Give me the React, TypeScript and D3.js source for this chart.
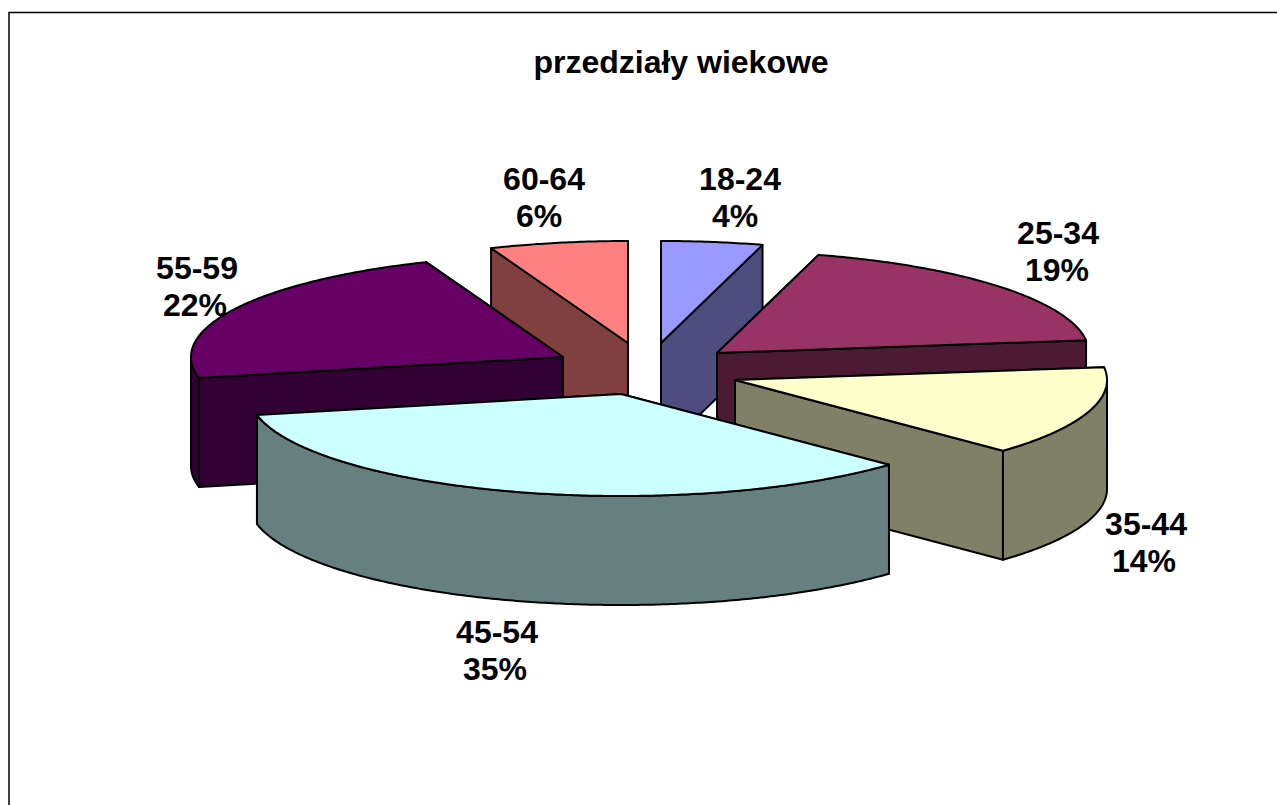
import React from "react";
import * as d3 from "d3";

// ---- data ----
const categories = ["18-24", "25-34", "35-44", "45-54", "55-59", "60-64"];
const shares = [4.4, 18.6, 14.2, 34.5, 22.3, 6];
const title = "przedziały wiekowe";

// ---- style ----
const topColors = ["#9999FF", "#993366", "#FFFFCC", "#CCFFFF", "#660066", "#FF8080"];
const sideColors = ["#4D4D80", "#4D1A33", "#808066", "#668080", "#330033", "#804040"];

// ---- layout ----
const RX = 372;
const RY = 102;
const DEPTH = 109;
const centers: [number, number][] = [
  [661, 343],
  [717, 353],
  [735, 380],
  [621, 394],
  [563, 357],
  [628, 343],
];
const labelPos: [number, number, number][] = [
  [740, 190, 735],
  [1058, 244, 1057],
  [1146, 535, 1144],
  [497, 643, 495],
  [197, 279, 195],
  [544, 190, 539],
];
const drawOrder = [5, 0, 4, 1, 2, 3];

const pieGen = d3.pie<number>().sort(null).startAngle(0).endAngle(2 * Math.PI);
const arcs = pieGen(shares);

const px = (c: [number, number], a: number, dy = 0): [number, number] => [
  c[0] + RX * Math.sin(a),
  c[1] - RY * Math.cos(a) + dy,
];

function arcPts(c: [number, number], a0: number, a1: number, dy = 0) {
  const n = Math.max(2, Math.ceil(Math.abs(a1 - a0) / 0.01));
  return d3.range(n + 1).map((i) => px(c, a0 + ((a1 - a0) * i) / n, dy));
}

const line = d3.line();

export default function App() {
  return (
    <svg
      width={1277}
      height={805}
      style={{ position: "absolute", left: 0, top: 0, background: "#fff" }}
    >
      <path d="M9,805 V12.5 H1277" fill="none" stroke="#000" strokeWidth={1.5} />
      <text
        x={681}
        y={73}
        textAnchor="middle"
        fontFamily="Liberation Sans"
        fontWeight="bold"
        fontSize={32}
        fill="#000"
      >
        {title}
      </text>
      {categories.map((cat, i) => {
        const [x, y, x2] = labelPos[i];
        return (
          <g
            key={cat}
            fontFamily="Liberation Sans"
            fontWeight="bold"
            fontSize={32}
            textAnchor="middle"
            fill="#000"
          >
            <text x={x} y={y}>{cat}</text>
            <text x={x2} y={y + 37}>{`${Math.round(shares[i])}%`}</text>
          </g>
        );
      })}
      {drawOrder.map((i) => {
        const c = centers[i];
        const { startAngle: a0, endAngle: a1 } = arcs[i];
        const walls = [a0, a1].sort((p, q) => Math.cos(q) - Math.cos(p));
        const fr0 = Math.max(a0, Math.PI / 2);
        const fr1 = Math.min(a1, (3 * Math.PI) / 2);
        const top = [c, ...arcPts(c, a0, a1)] as [number, number][];
        return (
          <g key={categories[i]} stroke="#000" strokeWidth={2} strokeLinejoin="round">
            {walls.map((a, k) => (
              <path
                key={k}
                fill={sideColors[i]}
                d={line([c, px(c, a), px(c, a, DEPTH), [c[0], c[1] + DEPTH]] as [number, number][]) + "Z"}
              />
            ))}
            {fr1 > fr0 && (
              <path
                fill={sideColors[i]}
                d={line([...arcPts(c, fr0, fr1), ...arcPts(c, fr1, fr0, DEPTH)] as [number, number][]) + "Z"}
              />
            )}
            <path fill={topColors[i]} d={line(top) + "Z"} />
          </g>
        );
      })}
    </svg>
  );
}
